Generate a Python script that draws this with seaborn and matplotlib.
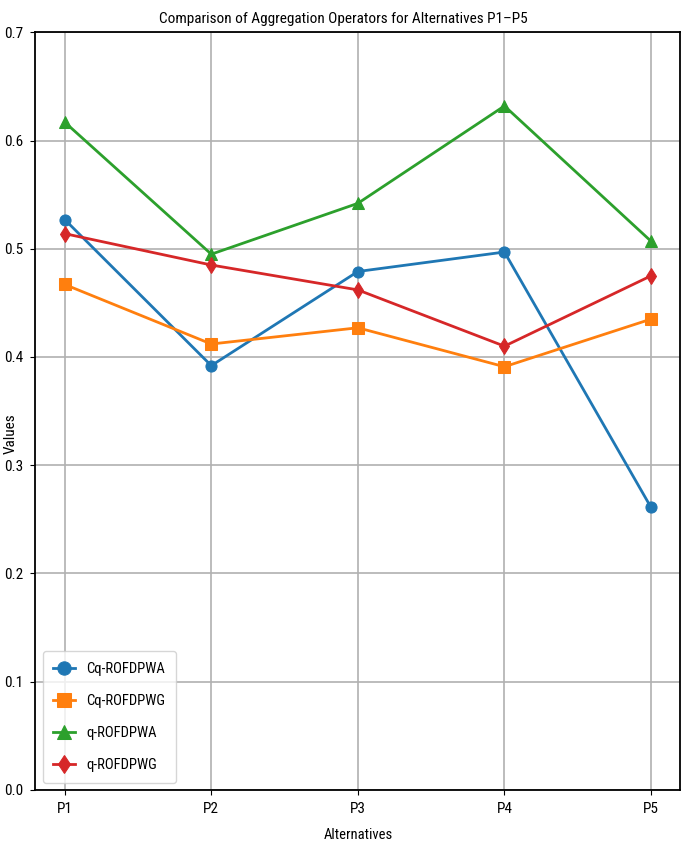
import matplotlib
matplotlib.use("Agg")
import matplotlib.pyplot as plt
import seaborn as sns
import pandas as pd

alternatives = ["P1", "P2", "P3", "P4", "P5"]
cq_rofdpwa = [0.527, 0.392, 0.479, 0.497, 0.261]
cq_rofdpwg = [0.467, 0.412, 0.427, 0.391, 0.435]
q_rofdpwa = [0.617, 0.495, 0.542, 0.632, 0.507]
q_rofdpwg = [0.514, 0.485, 0.462, 0.410, 0.475]

series = {
    "Cq-ROFDPWA": (cq_rofdpwa, "#1f77b4", "o"),
    "Cq-ROFDPWG": (cq_rofdpwg, "#ff7f0e", "s"),
    "q-ROFDPWA": (q_rofdpwa, "#2ca02c", "^"),
    "q-ROFDPWG": (q_rofdpwg, "#d62728", "d"),
}

# narrow font, the reference text looks squeezed
plt.rcParams["font.family"] = ["Liberation Sans Narrow", "Roboto Condensed", "DejaVu Sans"]

fig = plt.figure(figsize=(6.81, 8.52), dpi=100)
ax = fig.add_axes([0.052, 0.073, 0.947, 0.889])

for name, (vals, col, mk) in series.items():
    df = pd.DataFrame({"Alternatives": alternatives, "Values": vals})
    sns.lineplot(data=df, x="Alternatives", y="Values", ax=ax, color=col,
                 marker=mk, markersize=8, markeredgecolor=col, linewidth=2,
                 label=name)

ax.set_ylim(0, 0.7)
ax.set_title("Comparison of Aggregation Operators for Alternatives P1\u2013P5",
             fontsize=11, pad=7, x=0.478)
ax.set_xlabel("Alternatives", fontsize=10.5, labelpad=9)
ax.set_ylabel("Values", fontsize=11)
ax.yaxis.set_label_coords(-0.027, 0.47)
ax.tick_params(labelsize=11, pad=5)
ax.grid(True, color="#b0b0b0", linewidth=1.2)
for s in ax.spines.values():
    s.set_linewidth(1.3)
ax.legend(loc="lower left", fontsize=10.5, labelspacing=1.25, handlelength=1.5,
          borderpad=0.7, markerscale=1.2)
fig.savefig("out.png", dpi=100)
